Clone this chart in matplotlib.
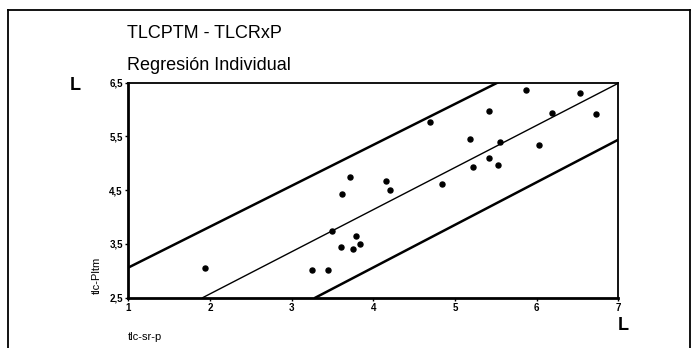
import numpy as np
import matplotlib.pyplot as plt
from matplotlib.lines import Line2D

plt.rcParams['font.family'] = ['Liberation Sans', 'DejaVu Sans']

# data
x_pts = [1.94, 3.25, 3.44, 3.50, 3.61, 3.75, 3.79, 3.84, 3.62, 3.71,
         4.16, 4.21, 4.84, 4.70, 5.19, 5.42, 5.22, 5.53, 5.42, 5.55,
         5.87, 6.19, 6.03, 6.53, 6.73]
y_pts = [3.05, 3.02, 3.02, 3.75, 3.44, 3.40, 3.64, 3.49, 4.43, 4.74,
         4.68, 4.51, 4.61, 5.77, 5.46, 5.09, 4.94, 4.97, 5.97, 5.40,
         6.36, 5.93, 5.35, 6.31, 5.91]

# regression line and prediction bands (end points)
upper_x = [1.0, 5.52]
upper_y = [3.06, 6.5]
fit_x = [1.91, 7.0]
fit_y = [2.5, 6.49]
lower_x = [3.29, 7.0]
lower_y = [2.5, 5.44]

xticks = [1, 2, 3, 4, 5, 6, 7]
yticks = [2.5, 3.5, 4.5, 5.5, 6.5]
ytick_labels = ["2,5", "3,5", "4,5", "5,5", "6,5"]

fig = plt.figure(figsize=(6.96, 3.48), dpi=100)
fig.patch.set_facecolor("white")

# outer frame (open at the bottom)
W, H = 696.0, 348.0
frame = [([8, 8], [348, 10]), ([8, 690], [10, 10]), ([690, 690], [10, 348])]
for fx, fy in frame:
    fig.add_artist(Line2D([v / W for v in fx], [1 - v / H for v in fy],
                          color="black", lw=1.3, transform=fig.transFigure))

ax = fig.add_axes([128.3 / W, 1 - 297.7 / H, 490 / W, 215 / H])
ax.plot(upper_x, upper_y, color="black", lw=1.8)
ax.plot(fit_x, fit_y, color="black", lw=1.0)
ax.plot(lower_x, lower_y, color="black", lw=1.8)
ax.scatter(x_pts, y_pts, s=13, color="black", zorder=3)

ax.set_xlim(1, 7)
ax.set_ylim(2.5, 6.5)
ax.set_xticks(xticks)
ax.set_xticklabels([str(t) for t in xticks], fontsize=7, fontweight="bold")
ax.set_yticks(yticks)
ax.set_yticklabels(ytick_labels, fontsize=7, fontweight="bold")
ax.tick_params(length=2.5, width=1, pad=1.5)
for side in ["left", "bottom"]:
    ax.spines[side].set_linewidth(2)
for side in ["top", "right"]:
    ax.spines[side].set_linewidth(1.3)

fig.text(127 / W, 1 - 33 / H, "TLCPTM - TLCRxP", fontsize=13,
         ha="left", va="center")
fig.text(127 / W, 1 - 65.5 / H, "Regresión Individual", fontsize=13,
         ha="left", va="center")
fig.text(97 / W, 1 - 275 / H, "tlc-Pltm", fontsize=8, rotation=90,
         ha="center", va="center")
fig.text(128 / W, 1 - 337 / H, "tlc-sr-p", fontsize=8,
         ha="left", va="center")

# crop marks from the scan
fig.text(75 / W, 1 - 85 / H, "L", fontsize=13, fontweight="bold",
         ha="center", va="center")
fig.text(623 / W, 1 - 326 / H, "L", fontsize=13, fontweight="bold",
         ha="center", va="center")

plt.savefig("out.png", dpi=100)
plt.close("all")
